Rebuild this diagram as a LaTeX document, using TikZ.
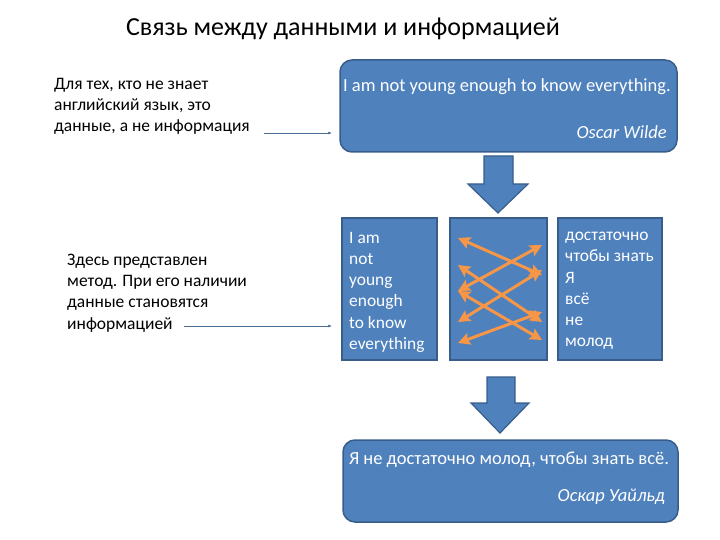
\documentclass[tikz,border=0pt]{standalone}
\usepackage{fontspec}
\setmainfont{Carlito}
\usepackage{tikz}
\usetikzlibrary{arrows.meta,positioning,calc}
\usepackage{xcolor}

\definecolor{boxfill}{HTML}{4F81BD}
\definecolor{boxline}{HTML}{385D8A}
\definecolor{swaporange}{HTML}{F79646}
\definecolor{pointerblue}{HTML}{4A6C93}

\begin{document}
\begin{tikzpicture}[
    x=1pt, y=-1pt,
    quotebox/.style={rectangle, draw=boxline, line width=1.5pt, fill=boxfill, rounded corners=12pt, inner sep=0pt},
    wordbox/.style={rectangle, draw=boxline, line width=1.5pt, fill=boxfill, minimum width=96pt, minimum height=142pt, inner sep=0pt},
    boxtext/.style={text=white, font=\fontsize{18.5}{21}\selectfont, inner sep=0pt},
    wordlist/.style={text=white, font=\fontsize{17.4}{21.2}\selectfont, align=left, inner sep=0pt, anchor=north west},
    notetext/.style={text=black, font=\fontsize{17.5}{21.2}\selectfont, align=left, inner sep=0pt, anchor=north west},
    pointer/.style={draw=pointerblue, line width=0.8pt, -{Latex[length=4pt,width=3pt]}},
    swaparrow/.style={draw=swaporange, line width=3pt, {Stealth[length=12pt,width=12pt,inset=2pt]}-{Stealth[length=12pt,width=12pt,inset=2pt]}},
    blockarrow/.style={draw=boxline, line width=1.2pt, fill=boxfill, line join=miter}
]
\useasboundingbox (0,0) rectangle (720,540);

% title
\node[font=\fontsize{26}{30}\selectfont, inner sep=0pt] (title) at (343,29) {Связь между данными и информацией};

% quote in english
\node[quotebox, minimum width=337pt, minimum height=92pt] (top) at (508.5,106) {};
\node[boxtext] (topline) at (507,87) {I am not young enough to know everything.};
\node[boxtext, anchor=east] (topauthor) at (667,132) {\itshape Oscar Wilde};

% block arrow 1
\draw[blockarrow] (484,156) -- (513,156) -- (513,184) -- (528,184) -- (498,213) -- (468,184) -- (484,184) -- cycle;

% word by word
\node[wordbox, minimum width=95pt] (words) at (389.5,289) {};
\node[wordbox, minimum width=97pt] (swap) at (498.5,289) {};
\node[wordbox, minimum width=104pt] (slova) at (610,289) {};
\node[wordlist] (wordsen) at (349,232) {I am\\not\\young\\enough\\to know\\everything};
\node[wordlist] (wordsru) at (565,232) {достаточно\\чтобы знать\\Я\\всё\\не\\молод};

% swap arrows
\foreach \i/\ly/\ry in {1/238/275, 2/265/322, 3/291/245, 4/291/340, 5/322/270, 6/343/312} {
    \coordinate (sl\i) at (458,\ly);
    \coordinate (sr\i) at (542,\ry);
}
\foreach \i in {1,...,6}
    \draw[swaparrow] (sl\i) -- (sr\i);

% block arrow 2
\draw[blockarrow] (487,377) -- (515,377) -- (515,403) -- (529,403) -- (500,433) -- (471,403) -- (487,403) -- cycle;

% quote in russian
\node[quotebox, minimum width=335pt, minimum height=82pt] (bottom) at (510.5,481) {};
\node[boxtext] (bottomline) at (509,460) {Я не достаточно молод, чтобы знать всё.};
\node[boxtext, anchor=east] (bottomauthor) at (665,497) {\itshape Оскар Уайльд};

% notes on the left
\node[notetext] (note1) at (54,78) {Для тех, кто не знает\\английский язык, это\\данные, а не информация};
\node[notetext] (note2) at (67,254) {Здесь представлен\\метод. При его наличии\\данные становятся\\информацией};
\coordinate (p1) at (264,133);
\coordinate (p2) at (184,326);
\draw[pointer, shorten >=7pt] (p1) -- (p1 -| top.west);
\draw[pointer, shorten >=9pt] (p2) -- (p2 -| words.west);
\end{tikzpicture}
\end{document}
